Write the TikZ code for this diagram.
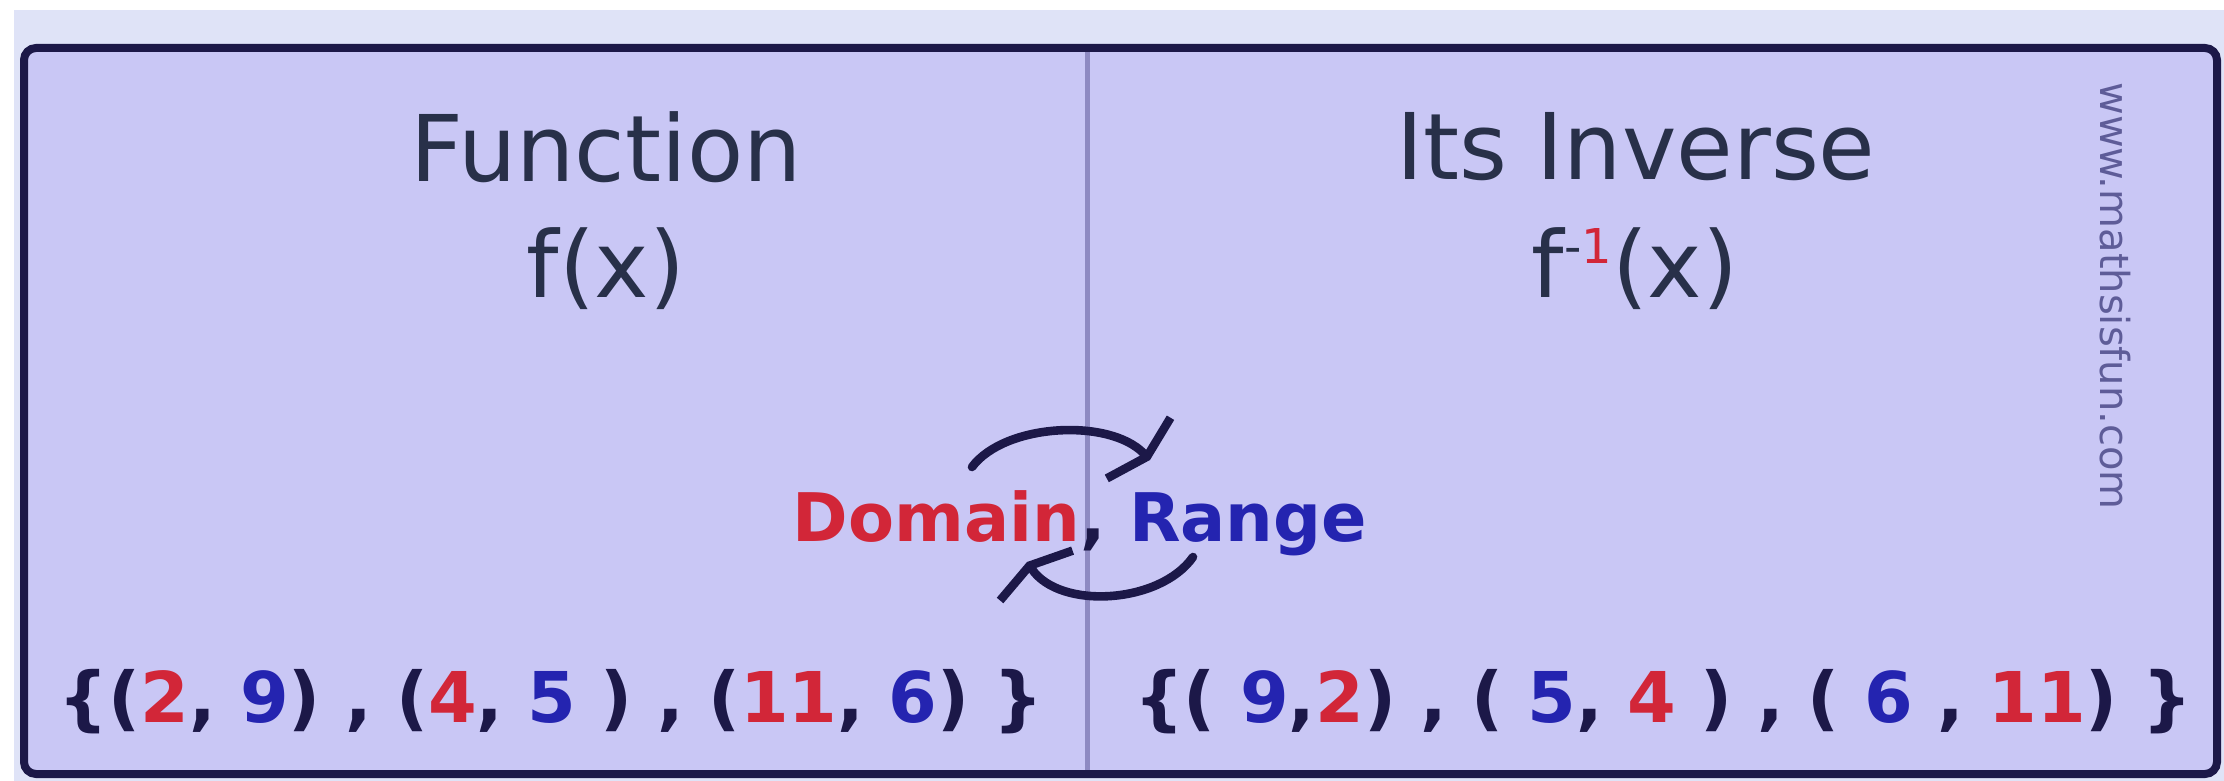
\documentclass[tikz,border=0pt]{standalone}
\usepackage{fontspec}
\setmainfont{DejaVu Sans}
\usetikzlibrary{arrows.meta}
\definecolor{fillc}{HTML}{C9C7F5}
\definecolor{bandc}{HTML}{DFE3F7}
\definecolor{framec}{HTML}{1C1848}
\definecolor{divc}{HTML}{8E8AC2}
\definecolor{ttlc}{HTML}{283049}
\definecolor{numred}{HTML}{D22638}
\definecolor{numblue}{HTML}{2424B0}
\definecolor{wmc}{HTML}{5E5C98}
\newcommand{\rnum}[1]{\textcolor{numred}{#1}}
\newcommand{\bnum}[1]{\textcolor{numblue}{#1}}
\tikzset{
  ttl/.style={anchor=base,text=ttlc,inner sep=0pt,font=\fontsize{46pt}{50pt}\selectfont},
  pairs/.style={anchor=base,text=framec,inner sep=0pt,font=\fontsize{35pt}{40pt}\selectfont\bfseries},
  cyc/.style={line width=4.3pt,draw=framec,line cap=round,-{Straight Barb[length=6pt,width=44pt]}},
}

\begin{document}
\begin{tikzpicture}[x=0.5pt,y=-0.5pt]
  \useasboundingbox (0,0) rectangle (2224,781);
  \fill[white] (0,0) rectangle (2224,781);
  \fill[bandc] (14,10) rectangle (2224,781);
  \fill[fillc,rounded corners=6pt] (24,48) rectangle (2217,774);
  \draw[line width=2.5pt,divc] (1087,48) -- (1087,774);
  \draw[line width=4pt,framec,rounded corners=6pt] (24,48) rectangle (2217,774);
  % headings
  \node[ttl] (fun) at (606,182) {Function};
  \node[ttl] (funx) at (606,297) {f(x)};
  \node[ttl] (inv) at (1636,180) {Its Inverse};
  \node[ttl] (invx) at (1635,297)
    {f\raisebox{17pt}{\fontsize{24pt}{24pt}\selectfont -\rnum{1}}(x)};
  % swap in the middle
  \node[anchor=base,inner sep=0pt,text=framec,font=\fontsize{33.5pt}{38pt}\selectfont\bfseries]
    (dr) at (1080,541) {\rnum{Domain}, \bnum{Range}};
  \coordinate (ua) at (972,467);
  \coordinate (ub) at (1150,460);
  \coordinate (la) at (1193,557);
  \coordinate (lb) at (1027,562);
  \draw[cyc] (ua) .. controls (1005,423) and (1110,418) .. (ub);
  \draw[cyc] (la) .. controls (1160,604) and (1060,610) .. (lb);
  % the pairs
  \node[pairs] (fset) at (551,722)
    {\{(\rnum{2}, \bnum{9}) , (\rnum{4}, \bnum{5} ) , (\rnum{11}, \bnum{6}) \}};
  \node[pairs] (iset) at (1663,722)
    {\{( \bnum{9},\rnum{2}) , ( \bnum{5}, \rnum{4} ) , ( \bnum{6} , \rnum{11}) \}};
  \node[rotate=-90,inner sep=0pt,text=wmc,font=\fontsize{20pt}{22pt}\selectfont]
    (www) at (2115,296) {www.mathsisfun.com};
\end{tikzpicture}
\end{document}
